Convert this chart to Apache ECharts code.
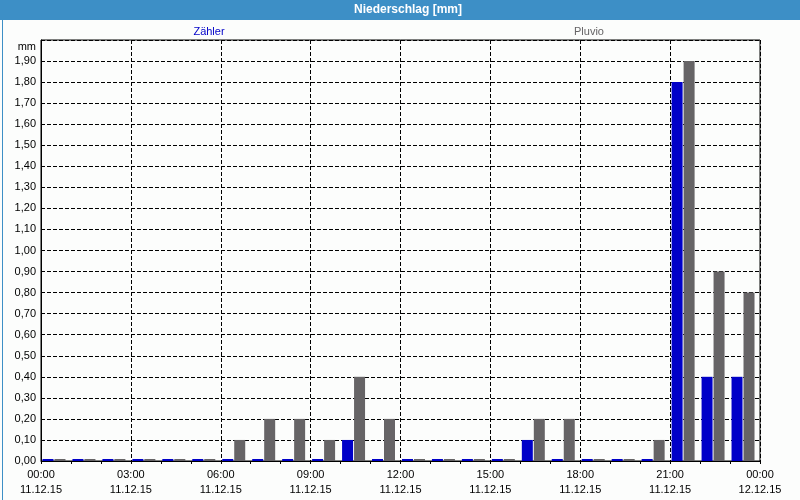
<!DOCTYPE html>
<html><head><meta charset="utf-8">
<script src="https://cdn.jsdelivr.net/npm/echarts@6/dist/echarts.min.js"></script>
<style>html,body{margin:0;padding:0;background:#fcfdfc}#c{width:800px;height:500px}</style>
</head><body><div id="c"></div>
<script>
const hourCategories = ['00','01','02','03','04','05','06','07','08','09','10','11','12','13','14','15','16','17','18','19','20','21','22','23'];
const zaehler = [0,0,0,0,0,0,0,0,0,0,0.1,0,0,0,0,0,0.1,0,0,0,0,1.8,0.4,0.4];
const pluvio  = [0,0,0,0,0,0,0.1,0.2,0.2,0.1,0.4,0.2,0,0,0,0,0.2,0.2,0,0,0.1,1.9,0.9,0.8];
const xTickLabels = ['00:00\n11.12.15','03:00\n11.12.15','06:00\n11.12.15','09:00\n11.12.15','12:00\n11.12.15','15:00\n11.12.15','18:00\n11.12.15','21:00\n11.12.15','00:00\n12.12.15'];
const seriesNames = ['Zähler','Pluvio'];
const titleText = 'Niederschlag [mm]';
const unitText = 'mm';

const FONT = 'Liberation Sans';
const chart = echarts.init(document.getElementById('c'), null, {renderer:'canvas'});
const dash = {color:'#000', width:1, type:[4,2]};
chart.setOption({
  backgroundColor:'#fcfdfc',
  animation:false,
  textStyle:{fontFamily:FONT},
  grid:[
    {left:41, right:40, top:40, bottom:39, show:true, borderColor:'#000', borderWidth:1, backgroundColor:'transparent'},
    {left:39, right:42, top:40, bottom:39, show:false}
  ],
  xAxis:[
    {type:'value', gridIndex:0, min:0, max:24, interval:3,
     axisLine:{show:true, lineStyle:{color:'#000'}},
     axisTick:{show:true, length:3, lineStyle:{color:'#000'}},
     minorTick:{show:true, splitNumber:3, length:3, lineStyle:{color:'#000'}},
     splitLine:{show:true, lineStyle:dash},
     axisLabel:{show:true, showMinLabel:true, showMaxLabel:true, color:'#000', fontSize:11, fontFamily:FONT, lineHeight:15, margin:6,
       formatter:(v)=> xTickLabels[Math.round(v/3)] }},
    {type:'category', gridIndex:1, data:hourCategories, boundaryGap:true, show:false}
  ],
  yAxis:[
    {type:'value', gridIndex:0, min:0, max:2, interval:0.1,
     axisLine:{show:true, lineStyle:{color:'#000'}},
     axisTick:{show:false},
     splitLine:{show:true, lineStyle:dash},
     axisLabel:{color:'#000', fontSize:11, fontFamily:FONT, margin:5,
       formatter:(v)=> v >= 1.999 ? '' : v.toFixed(2).replace('.', ',') }},
    {type:'value', gridIndex:1, min:0, max:2, show:false}
  ],
  series:[
    {name:seriesNames[0], type:'bar', xAxisIndex:1, yAxisIndex:1, data:zaehler, barWidth:11, barGap:'9%', barMinHeight:2,
     itemStyle:{color:'#0000c8'}},
    {name:seriesNames[1], type:'bar', xAxisIndex:1, yAxisIndex:1, data:pluvio, barWidth:11, barGap:'9%', barMinHeight:2,
     itemStyle:{color:'#666466'}}
  ],
  graphic:[
    {type:'rect', left:0, top:0, shape:{width:800, height:20}, style:{fill:'#3d8fc6'}, z:-1},
    {type:'rect', left:0, top:0, shape:{x:0.5, y:0.5, width:799, height:499}, style:{fill:null, stroke:'#3d8fc6', lineWidth:1}, z:100},
    {type:'text', x:408, y:10, style:{text:titleText, fill:'#fff', font:'bold 12px '+FONT, align:'center', verticalAlign:'middle'}},
    {type:'text', x:209, y:32, style:{text:seriesNames[0], fill:'#0000c8', font:'11px '+FONT, align:'center', verticalAlign:'middle'}},
    {type:'text', x:589, y:32, style:{text:seriesNames[1], fill:'#666466', font:'11px '+FONT, align:'center', verticalAlign:'middle'}},
    {type:'text', x:36, y:47, style:{text:unitText, fill:'#000', font:'11px '+FONT, align:'right', verticalAlign:'middle'}}
  ]
});
</script></body></html>
